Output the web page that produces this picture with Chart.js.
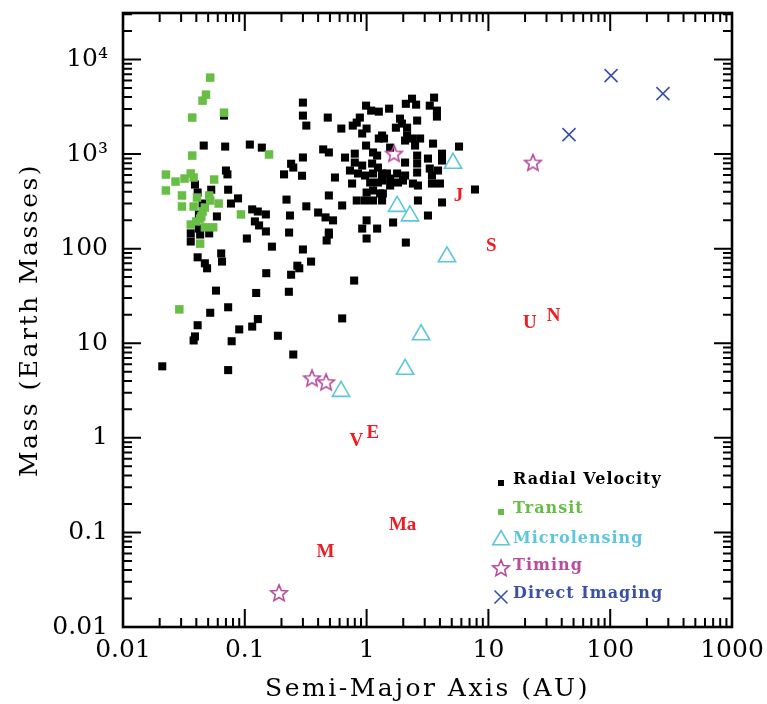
<!DOCTYPE html>
<html>
<head>
<meta charset="utf-8">
<script src="https://cdn.jsdelivr.net/npm/chart.js@4.4.1/dist/chart.umd.min.js"></script>
<style>
html,body{margin:0;padding:0;background:#fff;}
canvas{display:block;}
</style>
</head>
<body>
<canvas id="c" width="767" height="704"></canvas>
<script>
// ---------- DATA ----------
const rvA = [0.021,0.036,0.104,0.167,0.30,0.041,0.064,0.047,0.065,0.049,0.27,0.35,0.28,0.15,0.24,0.058,0.124,0.23,0.052,0.073,
  0.041,0.090,0.128,0.115,0.187,0.039,0.038,0.078,0.25,0.073,0.30,0.30,0.32,0.046,0.069,0.11,0.138,0.30,0.24,0.25,
  0.21,0.295,0.070,0.072,0.039,0.053,0.073,0.088,0.22,0.045,0.077,0.32,0.115,0.128,0.149,0.235,0.40,0.059,0.042,0.121,
  0.131,0.149,0.231,0.036,0.043,0.051,0.041,0.0675,0.042,0.48,0.62,0.99,1.09,1.26,1.53,0.88,0.83,0.77,1.0,0.92,
  1.34,1.26,1.88,1.74,0.99,1.13,1.22,0.44,0.49,0.665,0.80,0.80,0.92,1.11,1.24,0.55,0.73,0.85,0.97,1.13,
  1.34,1.56,1.78,0.76,1.07,1.24,1.56,1.81,1.0,1.13,0.97,1.13,1.29,0.83,0.49,0.63,0.46,0.53,0.49,0.47,
  1.0,0.92,1.22,1.0,1.65,2.1,2.36,2.55,3.58,3.3,3.78,3.78,1.95,2.15,2.6,1.39,2.15,2.36,2.75,2.07,
  2.5,3.51,5.74,1.56,2.6,3.19,4.16,4.16,2.07,2.6,3.3,3.86,1.47,2.07,2.6,3.44,1.34,1.99,2.4,2.64,
  3.44,4.0,7.76,1.36,1.34,2.64,4.16,3.19,2.1,0.49,0.79,0.63];
const rvM = [5.7,119,128,105,98,81,89,70,73,62,66,73,62,55,53,36,34,35,21,24,
  15.5,14,18,15,12,11.8,10.7,10.5,7.6,5.2,3500,2550,2000,1230,1200,1260,1170,920,790,720,
  610,590,670,610,476,420,420,340,330,300,300,280,260,247,230,224,241,219,230,194,
  176,152,148,145,141,145,392,2550,163,2430,1860,3250,2880,2810,3020,2430,2150,2000,1860,1650,
  1570,1460,2370,1900,1230,1040,964,1120,1040,918,1010,813,756,794,720,565,670,623,593,623,
  623,551,623,488,500,500,465,500,392,412,323,323,383,323,365,286,214,199,148,122,
  199,163,163,128,189,3400,3850,3330,3950,3250,2880,2490,2100,1900,2260,1460,1570,1460,1460,1390,
  1230,1290,1200,1170,964,896,1010,854,813,794,703,670,623,593,638,593,525,525,488,465,
  488,488,422,383,323,323,308,224,116,141,46,18.3];

const trA = [0.052,0.048,0.045,0.0675,0.037,0.158,0.037,0.0225,0.027,0.032,0.036,0.038,0.056,0.0225,0.0305,0.0405,
  0.051,0.0305,0.038,0.061,0.052,0.047,0.045,0.044,0.093,0.043,0.040,0.036,0.047,0.055,0.043,0.029];
const trM = [6430,4250,3670,2740,2430,990,964,607,512,551,623,565,538,412,365,347,
  365,279,279,300,323,272,247,219,230,208,194,180,168,168,113,22.8];

const mlA = [5.12,1.78,2.27,4.57,2.80,2.07,0.617];
const mlM = [800,280,222,82,12.3,5.3,3.1];

const tmA = [23.2,1.68,0.356,0.465,0.191];
const tmM = [813,1012,4.26,3.87,0.0229];

const diA = [101.6,271,45.9];
const diM = [6740,4350,1607];

const planetNames = ['M','V','E','Ma','J','S','U','N'];
const planetA = [0.387,0.723,1.0,1.524,5.203,9.537,19.19,30.07];
const planetM = [0.0553,0.815,1.0,0.107,317.8,95.2,14.5,17.1];

const xTickValues = [0.01,0.1,1,10,100,1000];
const xTickLabels = ['0.01','0.1','1','10','100','1000'];
const yTickValues = [0.01,0.1,1,10,100,1000,10000];
const yTickLabels = ['0.01','0.1','1','10','100','10\u00B3','10\u2074'];

const legendLabels = ['Radial Velocity','Transit','Microlensing','Timing','Direct Imaging'];

// ---------- STYLE ----------
const FONT = 'DejaVu Serif';
const C_RV = '#000000', C_TR = '#68bd45', C_ML = '#5cc6dc', C_TM = '#b84c9f', C_DI = '#3b52a4', C_PL = '#ee1c25';

function pts(a, m) { return a.map((v, i) => ({x: v, y: m[i]})); }

function makeStar(size, color) {
  const cv = document.createElement('canvas');
  cv.width = size; cv.height = size;
  const g = cv.getContext('2d');
  const cx = size / 2, cy = size / 2 + 0.6, R = size / 2 - 1.3, r = R * 0.45;
  g.beginPath();
  for (let i = 0; i < 10; i++) {
    const ang = -Math.PI / 2 + i * Math.PI / 5;
    const rr = i % 2 === 0 ? R : r;
    const px = cx + rr * Math.cos(ang), py = cy + rr * Math.sin(ang);
    if (i === 0) g.moveTo(px, py); else g.lineTo(px, py);
  }
  g.closePath();
  g.strokeStyle = color; g.lineWidth = 1.6; g.lineJoin = 'miter';
  g.stroke();
  return cv;
}
const starImg = makeStar(20, C_TM);

// ---------- PLUGINS ----------
const titleSpacing = {
  id: 'titleSpacing',
  beforeDraw(chart) {
    for (const id of ['x', 'y']) {
      const s = chart.scales[id];
      if (s && !s._lsPatched) {
        const orig = s.drawTitle;
        s.drawTitle = function () {
          const c = this.ctx; c.save(); c.letterSpacing = '2.5px';
          orig.apply(this, arguments); c.restore();
        };
        s._lsPatched = true;
      }
    }
  }
};

const planetLabels = {
  id: 'planetLabels',
  afterDatasetsDraw(chart) {
    const ctx = chart.ctx;
    chart.data.datasets.forEach((ds, di) => {
      if (!ds.textLabels) return;
      const meta = chart.getDatasetMeta(di);
      ctx.save();
      ctx.fillStyle = C_PL;
      ctx.font = 'bold 19px "Liberation Serif"';
      ctx.textAlign = 'left';
      ctx.textBaseline = 'alphabetic';
      meta.data.forEach((el, i) => ctx.fillText(ds.textLabels[i], el.x, el.y));
      ctx.restore();
    });
  }
};

const frameTicks = {
  id: 'frameTicks',
  afterDraw(chart) {
    const {ctx, chartArea: {left, right, top, bottom}, scales: {x, y}} = chart;
    ctx.save();
    ctx.strokeStyle = '#000';
    ctx.lineWidth = 2;
    ctx.beginPath();
    for (let e = -2; e <= 3; e++) for (let m = 1; m <= 9; m++) {
      const v = m * Math.pow(10, e);
      if (v < x.min * 0.999 || v > x.max * 1.001) continue;
      const p = x.getPixelForValue(v), len = m === 1 ? 18 : 9;
      ctx.moveTo(p, bottom); ctx.lineTo(p, bottom - len);
      ctx.moveTo(p, top); ctx.lineTo(p, top + len);
    }
    for (let e = -2; e <= 4; e++) for (let m = 1; m <= 9; m++) {
      const v = m * Math.pow(10, e);
      if (v < y.min * 0.999 || v > y.max * 1.001) continue;
      const p = y.getPixelForValue(v), len = m === 1 ? 18 : 9;
      ctx.moveTo(left, p); ctx.lineTo(left + len, p);
      ctx.moveTo(right, p); ctx.lineTo(right - len, p);
    }
    ctx.stroke();
    ctx.lineWidth = 2.6;
    ctx.strokeRect(left, top, right - left, bottom - top);
    ctx.restore();
  }
};

const customLegend = {
  id: 'customLegend',
  afterDraw(chart) {
    const ctx = chart.ctx;
    const mx = 501, tx = 513;
    const markerY = [483, 512, 540, 568, 597];
    const textY = [484, 513, 543, 570, 598];
    const colors = [C_RV, C_TR, C_ML, C_TM, C_DI];
    ctx.save();
    ctx.fillStyle = C_RV; ctx.fillRect(mx - 3, markerY[0] - 3, 6, 6);
    ctx.fillStyle = C_TR; ctx.fillRect(mx - 3, markerY[1] - 3, 6, 6);
    ctx.strokeStyle = C_ML; ctx.lineWidth = 1.6;
    const r = 9.5, ty = markerY[2];
    ctx.beginPath();
    ctx.moveTo(mx, ty - r);
    ctx.lineTo(mx + r * Math.sin(2 * Math.PI / 3), ty - r * Math.cos(2 * Math.PI / 3));
    ctx.lineTo(mx + r * Math.sin(4 * Math.PI / 3), ty - r * Math.cos(4 * Math.PI / 3));
    ctx.closePath(); ctx.stroke();
    ctx.drawImage(starImg, mx - starImg.width / 2, markerY[3] - starImg.height / 2);
    ctx.strokeStyle = C_DI; ctx.lineWidth = 1.6;
    const d = 6.5, cy = markerY[4];
    ctx.beginPath();
    ctx.moveTo(mx - d, cy - d); ctx.lineTo(mx + d, cy + d);
    ctx.moveTo(mx - d, cy + d); ctx.lineTo(mx + d, cy - d);
    ctx.stroke();
    ctx.font = 'bold 16px "' + FONT + '"';
    ctx.letterSpacing = '1px';
    ctx.textAlign = 'left';
    ctx.textBaseline = 'alphabetic';
    legendLabels.forEach((t, i) => { ctx.fillStyle = colors[i]; ctx.fillText(t, tx, textY[i]); });
    ctx.restore();
  }
};

// ---------- CHART ----------
Chart.defaults.font.family = FONT;
Chart.defaults.color = '#000';

new Chart(document.getElementById('c'), {
  type: 'scatter',
  data: {
    datasets: [
      {label: 'Radial Velocity', data: pts(rvA, rvM), pointStyle: 'rect', pointRadius: 5.7, backgroundColor: C_RV, borderWidth: 0, order: 6},
      {label: 'Transit', data: pts(trA, trM), pointStyle: 'rect', pointRadius: 6, backgroundColor: C_TR, borderWidth: 0, order: 5},
      {label: 'Microlensing', data: pts(mlA, mlM), pointStyle: 'triangle', pointRadius: 10, backgroundColor: 'rgba(0,0,0,0)', borderColor: C_ML, borderWidth: 1.6, order: 4},
      {label: 'Timing', data: pts(tmA, tmM), pointStyle: starImg, pointRadius: 9, order: 3},
      {label: 'Direct Imaging', data: pts(diA, diM), pointStyle: 'crossRot', pointRadius: 9.2, borderColor: C_DI, borderWidth: 1.6, order: 2},
      {label: 'Solar System', data: pts(planetA, planetM), pointRadius: 0, textLabels: planetNames, order: 1}
    ]
  },
  options: {
    responsive: false,
    animation: false,
    events: [],
    layout: {padding: {top: 13, right: 35, bottom: 0, left: 0}},
    plugins: {legend: {display: false}, tooltip: {enabled: false}},
    scales: {
      x: {
        type: 'logarithmic', position: 'bottom', min: 0.01, max: 1000,
        grid: {display: false, drawTicks: false}, border: {display: false},
        afterBuildTicks: s => { s.ticks = xTickValues.map(v => ({value: v})); },
        afterFit: s => { s.height = 77; s.paddingLeft = 0; s.paddingRight = 0; },
        ticks: {
          autoSkip: false, maxRotation: 0, minRotation: 0, padding: 8,
          font: {size: 25, family: FONT}, color: '#000',
          callback: v => { const i = xTickValues.findIndex(t => Math.abs(t - v) / t < 1e-6); return i >= 0 ? xTickLabels[i] : ''; }
        },
        title: {display: true, text: 'Semi-Major Axis (AU)', font: {size: 25, family: FONT}, color: '#000', padding: {top: 0, bottom: 0}}
      },
      y: {
        type: 'logarithmic', position: 'left', min: 0.01, max: 31000,
        grid: {display: false, drawTicks: false}, border: {display: false},
        afterBuildTicks: s => { s.ticks = yTickValues.map(v => ({value: v})); },
        afterFit: s => { s.width = 123; s.paddingTop = 0; s.paddingBottom = 0; },
        ticks: {
          autoSkip: false, padding: 15,
          font: {size: 25, family: FONT}, color: '#000',
          callback: v => { const i = yTickValues.findIndex(t => Math.abs(t - v) / t < 1e-6); return i >= 0 ? yTickLabels[i] : ''; }
        },
        title: {display: true, text: 'Mass (Earth Masses)', font: {size: 25, family: FONT}, color: '#000', padding: {top: 15, bottom: 0}}
      }
    }
  },
  plugins: [titleSpacing, planetLabels, frameTicks, customLegend]
});
</script>
</body>
</html>
